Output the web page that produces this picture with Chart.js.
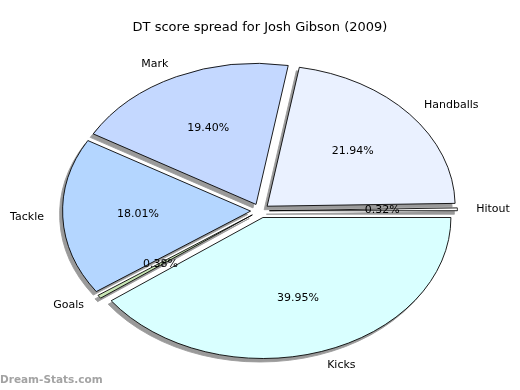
<!DOCTYPE html>
<html>
<head>
<meta charset="utf-8">
<script src="https://cdn.jsdelivr.net/npm/chart.js@4.4.1/dist/chart.umd.min.js"></script>
<style>
  body { margin: 0; background: #fff; }
  #wrap { width: 520px; height: 390px; position: relative; }
</style>
</head>
<body>
<div id="wrap"><canvas id="chart" width="520" height="390"></canvas></div>
<script>
// slices, clockwise from 3 o'clock
const labels = ["Kicks", "Goals", "Tackle", "Mark", "Handballs", "Hitout"];
const percents = [39.95, 0.38, 18.01, 19.40, 21.94, 0.32];
const colors = ["#d9ffff", "#c8e6b4", "#b4d6ff", "#c4d8ff", "#eaf1ff", "#ffffff"];

const radius = 188;
const squash = 0.75;  // pie is drawn as an ellipse
const explode = 0.05; // fraction of radius, like matplotlib

function explodeShift(arc) {
  const mid = (arc.startAngle + arc.endAngle) / 2;
  const d = explode * arc.outerRadius;
  return [d * Math.cos(mid), d * Math.sin(mid)];
}

// squash vertically, shadows under all wedges, then the wedges
const ellipsePie = {
  id: "ellipsePie",
  beforeDatasetsDraw(chart) {
    const ctx = chart.ctx;
    const arcs = chart.getDatasetMeta(0).data;
    const cy = arcs[0].y;
    ctx.save();
    ctx.translate(0, cy);
    ctx.scale(1, squash);
    ctx.translate(0, -cy);
    arcs.forEach(arc => {
      const [dx, dy] = explodeShift(arc);
      const ghost = Object.create(arc);
      ghost.options = Object.assign({}, arc.options, {
        backgroundColor: "#9a9a9a",
        borderColor: "#9a9a9a",
      });
      ctx.save();
      ctx.translate(dx - 3, dy + 3.5 / squash);
      arc.draw.call(ghost, ctx);
      ctx.restore();
    });
    arcs.forEach(arc => {
      const [dx, dy] = explodeShift(arc);
      ctx.save();
      ctx.translate(dx, dy);
      arc.draw(ctx);
      ctx.restore();
    });
    ctx.restore();
    return false;
  },
  afterDraw(chart) {
    // labels outside and percentages inside, like matplotlib
    const ctx = chart.ctx;
    const arcs = chart.getDatasetMeta(0).data;
    ctx.save();
    ctx.fillStyle = "#000";
    ctx.font = "11px 'DejaVu Sans'";
    ctx.textBaseline = "middle";
    arcs.forEach((arc, i) => {
      const mid = (arc.startAngle + arc.endAngle) / 2;
      const off = explode * arc.outerRadius;
      const c = Math.cos(mid), s = Math.sin(mid);
      const r1 = off + arc.outerRadius * 1.1;
      ctx.textAlign = c >= 0 ? "left" : "right";
      ctx.fillText(labels[i], arc.x + r1 * c, arc.y + r1 * s * squash);
      const r2 = off + arc.outerRadius * 0.6;
      ctx.textAlign = "center";
      ctx.fillText(percents[i].toFixed(2) + "%", arc.x + r2 * c, arc.y + r2 * s * squash);
    });

    ctx.fillStyle = "#a3a3a3";
    ctx.font = "bold 10.5px 'DejaVu Sans'";
    ctx.textAlign = "left";
    ctx.fillText("Dream-Stats.com", 0, 380);
    ctx.restore();
  },
};

new Chart(document.getElementById("chart"), {
  type: "pie",
  data: {
    labels: labels,
    datasets: [
      {
        data: percents,
        backgroundColor: colors,
        borderColor: "#000",
        borderWidth: 1,
        borderJoinStyle: "miter",
      },
    ],
  },
  options: {
    responsive: false,
    animation: false,
    rotation: 90,
    radius: radius,
    layout: { padding: { left: 0, right: 0, top: 0, bottom: 11 } },
    plugins: {
      legend: { display: false },
      tooltip: { enabled: false },
      title: {
        display: true,
        text: "DT score spread for Josh Gibson (2009)",
        color: "#000",
        font: { family: "'DejaVu Sans'", size: 13, weight: "normal" },
        padding: { top: 20, bottom: 7 },
      },
    },
  },
  plugins: [ellipsePie],
});
</script>
</body>
</html>
